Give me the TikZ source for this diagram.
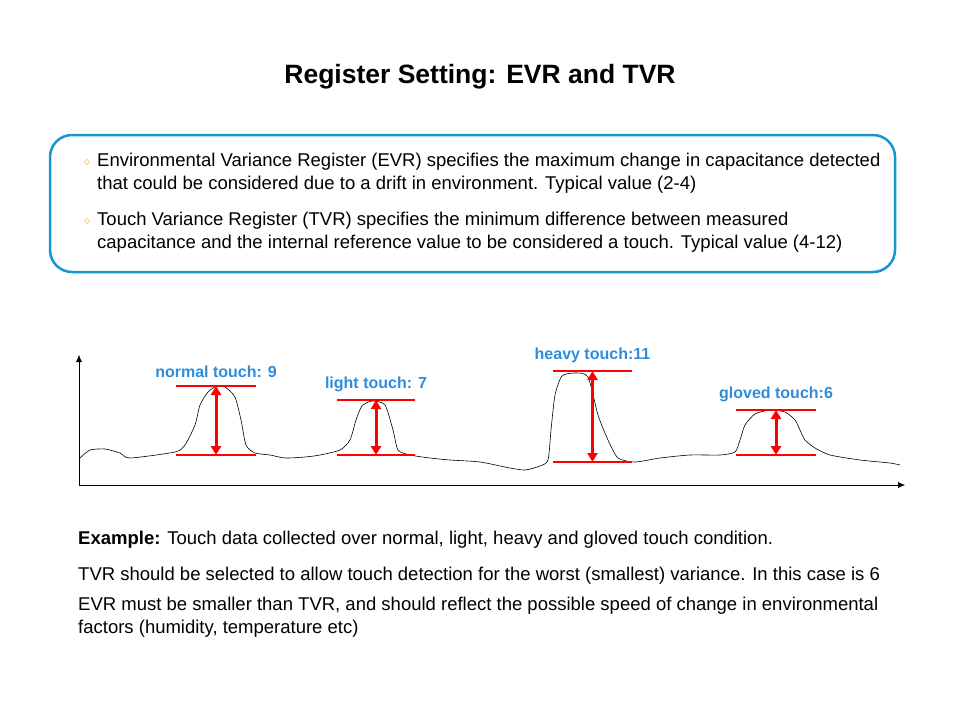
\documentclass[tikz,border=0pt]{standalone}
\usepackage{fontspec}
\setmainfont{Liberation Sans}
\usetikzlibrary{arrows.meta}
\definecolor{colorbox}{RGB}{22,150,210}
\definecolor{colorlbl}{RGB}{45,140,220}
\definecolor{colorbul}{RGB}{240,160,60}
\tikzset{
  txt/.style={draw=none, inner sep=0pt, anchor=west, font=\fontsize{18.5}{23}\selectfont},
  lbl/.style={draw=none, inner sep=0pt, text=colorlbl, font=\bfseries\fontsize{16}{18}\selectfont},
  lvl/.style={red, line width=1.6pt},
  edgetv/.style={red, line width=3pt, {Triangle[length=9pt,width=10pt]}-{Triangle[length=9pt,width=10pt]}},
  bul/.style={draw=none, colorbul, inner sep=0pt, font=\fontsize{12}{12}\selectfont}
}
\begin{document}
\begin{tikzpicture}[x=1pt,y=-1pt]
\useasboundingbox (0,0) rectangle (960,720);

\node[draw=none, inner sep=0pt, font=\bfseries\fontsize{26.5}{30}\selectfont] (title) at (480,77) {Register Setting: EVR and TVR};

\draw[colorbox, line width=2.5pt, rounded corners=22pt] (50,135) rectangle (895,272);
\node[bul] (b1) at (87,163) {$\diamond$};
\node[bul] (b2) at (87,222) {$\diamond$};
\node[txt, align=left] (t1) at (97,173) {Environmental Variance Register (EVR) specifies the maximum change in capacitance detected\\that could be considered due to a drift in environment. Typical value (2-4)};
\node[txt, align=left] (t2) at (97,232) {Touch Variance Register (TVR) specifies the minimum difference between measured\\capacitance and the internal reference value to be considered a touch. Typical value (4-12)};

% axes
\coordinate (o) at (79,485);
\coordinate (ytop) at (79,355);
\coordinate (xend) at (905,485);
\draw[-{Latex[length=7pt,width=6pt]}] (o) -- (ytop);
\draw[-{Latex[length=7pt,width=6pt]}] (o) -- (xend);

% touch data
\draw[black, line width=0.6pt] plot[smooth, tension=0.4] coordinates {
(80,458) (90,450) (105,449) (120,453) (130,458) (175,452) (185,445) (195,425) (200,405)
(208,392) (217,386) (225,387) (235,397) (241,420) (246,445) (255,453) (270,455) (285,458)
(305,457) (320,455) (340,450) (350,440) (356,420) (362,406) (372,401) (385,405) (393,430)
(398,450) (410,455) (430,458) (450,460) (480,462) (510,468) (525,470) (540,466) (548,460)
(551,430) (555,395) (562,376) (575,373) (588,377) (598,415) (608,440) (618,458) (635,462)
(660,458) (690,455) (720,455) (735,452) (740,440) (745,425) (755,414) (770,410) (785,412)
(795,420) (800,430) (805,440) (815,448) (830,455) (860,460) (890,463) (900,465)};

% levels
\foreach \nm/\xa/\xb/\ytop/\ybot/\txt in {
  nt/176/256/386/455/{normal touch: 9},
  lt/337/415/400/455/{light touch: 7},
  ht/553/632/371/462/{heavy touch:11},
  gt/736/816/410/455/{gloved touch:6}}{
  \coordinate (\nm top) at ({(\xa+\xb)/2},\ytop);
  \coordinate (\nm bot) at ({(\xa+\xb)/2},\ybot);
  \draw[lvl] (\xa,\ytop) -- (\xb,\ytop);
  \draw[lvl] (\xa,\ybot) -- (\xb,\ybot);
  \draw[edgetv] (\nm top) -- (\nm bot);
  \node[lbl, anchor=south] (\nm lbl) at ([yshift=8pt]\nm top) {\txt};
}

\node[txt] (ex) at (78,540) {\textbf{Example:} Touch data collected over normal, light, heavy and gloved touch condition.};
\node[txt] (tvr) at (78,576) {TVR should be selected to allow touch detection for the worst (smallest) variance. In this case is 6};
\node[txt, align=left] (evr) at (78,617) {EVR must be smaller than TVR, and should reflect the possible speed of change in environmental\\factors (humidity, temperature etc)};
\end{tikzpicture}
\end{document}
